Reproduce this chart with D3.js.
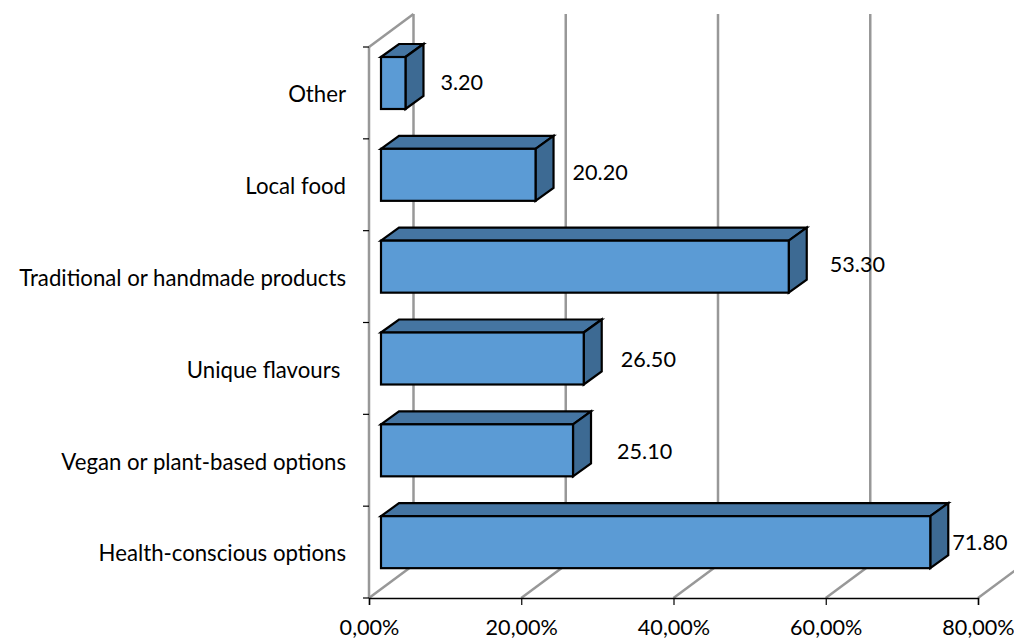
<!DOCTYPE html>
<html>
<head>
<meta charset="utf-8">
<script src="https://cdnjs.cloudflare.com/ajax/libs/d3/7.8.5/d3.min.js"></script>
<style>
  html, body { margin: 0; padding: 0; background: #fff; }
  svg { display: block; }
  text { font-family: Lato, "Open Sans", sans-serif; font-size: 21.6px; fill: #000; white-space: pre; }
  text.category { font-size: 22.2px; }
</style>
</head>
<body>
<svg id="chart" width="1014" height="641"></svg>
<script>
// Survey categories, listed from the bottom of the chart upward
const categories = [
  "Health-conscious options",
  "Vegan or plant-based options",
  "Unique flavours ",
  "Traditional or handmade products",
  "Local food",
  "Other"
];
const values = [71.8, 25.1, 26.5, 53.3, 20.2, 3.2];
const valueLabels = ["71.80", "25.10", "26.50", "53.30", "20.20", "3.20"];
const axisTicks = [0, 20, 40, 60, 80];

const svg = d3.select("#chart");

// Oblique projection: how far the back wall is shifted from the front plane
const wallDx = 44.5, wallDy = -33;
const barDx = 18, barDy = -13;
const barInsetX = 12, barInsetY = 10, barHeight = 52;
const floorY = 598, topY = 47;

const x = d3.scaleLinear().domain([0, 80]).range([369, 978]);
const barLength = d3.scaleLinear().domain([0, 80]).range([0, 612]);
const y = d3.scaleBand().domain(categories).range([floorY, topY]);

// Manual data label placement relative to the end of each bar's depth face
const labelShift = [
  { dx: 4, dy: 13 }, { dx: 26, dy: 14 }, { dx: 19, dy: 14 },
  { dx: 23, dy: 11 }, { dx: 19, dy: 11 }, { dx: 17, dy: 12 }
];

const gray = "#989898";
const walls = svg.append("g").attr("fill", "none").attr("stroke", gray).attr("stroke-width", 2.5);

// Vertical gridlines on the back wall
walls.selectAll("line.grid").data(axisTicks).join("line")
  .attr("class", "grid")
  .attr("x1", d => x(d) + wallDx).attr("x2", d => x(d) + wallDx)
  .attr("y1", topY + wallDy).attr("y2", floorY + wallDy);

// Floor lines running back from the horizontal axis
walls.selectAll("line.floor").data(axisTicks).join("line")
  .attr("class", "floor")
  .attr("x1", d => x(d)).attr("x2", d => x(d) + wallDx)
  .attr("y1", floorY).attr("y2", floorY + wallDy);

// Left wall: vertical edge and the top corner
walls.append("line").attr("x1", x(0)).attr("x2", x(0)).attr("y1", topY).attr("y2", floorY);
walls.append("line").attr("x1", x(0)).attr("x2", x(0) + wallDx).attr("y1", topY).attr("y2", topY + wallDy);

// Horizontal value axis
const xAxis = d3.axisBottom(x).tickValues(axisTicks).tickSize(7).tickPadding(15)
  .tickFormat(d => d3.format(".2f")(d).replace(".", ",") + "%");
const xg = svg.append("g").attr("transform", `translate(0,${floorY})`).call(xAxis);
xg.attr("font-size", null).attr("font-family", null);
xg.select(".domain").attr("stroke", "#000").attr("stroke-width", 1.5);
xg.selectAll(".tick line").attr("stroke", "#000").attr("stroke-width", 1.2);
xg.selectAll("text").attr("fill", null);

// Vertical category ticks and labels
const ticksY = y.domain().map(d => y(d)).concat([floorY]);
svg.append("g").selectAll("line").data(ticksY).join("line")
  .attr("x1", x(0) - 6).attr("x2", x(0))
  .attr("y1", d => d).attr("y2", d => d)
  .attr("stroke", "#000").attr("stroke-width", 1.2);

svg.append("g").selectAll("text").data(categories).join("text")
  .attr("class", "category")
  .attr("x", 346)
  .attr("y", d => y(d) + y.bandwidth() / 2 + 1.5)
  .attr("dy", "0.35em")
  .attr("text-anchor", "end")
  .text(d => d);

// Extruded bars: top face, side face, then front face
const rows = categories.map((c, i) => ({ c, v: values[i], label: valueLabels[i], shift: labelShift[i] }));
const bars = svg.append("g").selectAll("g").data(rows).join("g")
  .attr("stroke", "#000").attr("stroke-width", 2.2).attr("stroke-linejoin", "miter");

const x0 = x(0) + barInsetX;
const barTop = d => y(d.c) + barInsetY;
const barRight = d => x0 + barLength(d.v);

bars.append("path").attr("fill", "#4575A2")
  .attr("d", d => d3.line()([
    [x0, barTop(d)], [x0 + barDx, barTop(d) + barDy],
    [barRight(d) + barDx, barTop(d) + barDy], [barRight(d), barTop(d)]
  ]) + "Z");
bars.append("path").attr("fill", "#3D6A93")
  .attr("d", d => d3.line()([
    [barRight(d), barTop(d)], [barRight(d) + barDx, barTop(d) + barDy],
    [barRight(d) + barDx, barTop(d) + barDy + barHeight], [barRight(d), barTop(d) + barHeight]
  ]) + "Z");
bars.append("rect").attr("fill", "#5B9BD5")
  .attr("x", x0).attr("y", barTop)
  .attr("width", d => barLength(d.v)).attr("height", barHeight);

// Value labels beside each bar
svg.append("g").selectAll("text").data(rows).join("text")
  .attr("x", d => barRight(d) + barDx + d.shift.dx)
  .attr("y", d => barTop(d) + barHeight / 2 + barDy + d.shift.dy)
  .attr("dy", "0.35em")
  .text(d => d.label);
</script>
</body>
</html>
